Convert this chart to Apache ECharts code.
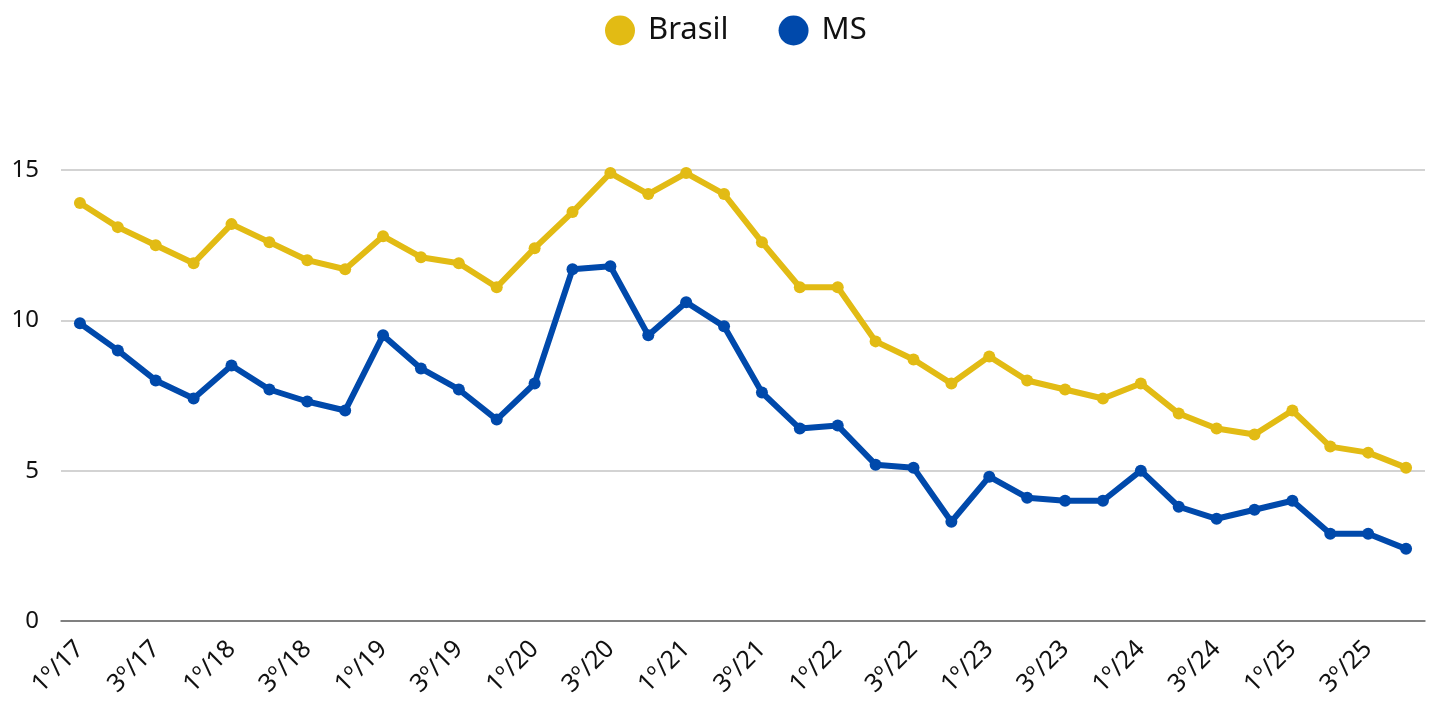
<!DOCTYPE html>
<html>
<head>
<meta charset="utf-8">
<script src="https://cdn.jsdelivr.net/npm/echarts@6/dist/echarts.min.js"></script>
<style>
  html, body { margin: 0; padding: 0; background: #fff; }
  #chart { width: 1433px; height: 702px; }
</style>
</head>
<body>
<div id="chart"></div>
<script>
// trimestres 2017-2025
var years = ['17', '18', '19', '20', '21', '22', '23', '24', '25'];
var quarters = [];
years.forEach(function (y) {
    for (var q = 1; q <= 4; q++) quarters.push(q + 'º/' + y);
});

var brasil = [13.9, 13.1, 12.5, 11.9, 13.2, 12.6, 12.0, 11.7, 12.8, 12.1, 11.9, 11.1,
              12.4, 13.6, 14.9, 14.2, 14.9, 14.2, 12.6, 11.1, 11.1, 9.3, 8.7, 7.9,
              8.8, 8.0, 7.7, 7.4, 7.9, 6.9, 6.4, 6.2, 7.0, 5.8, 5.6, 5.1];
var ms = [9.9, 9.0, 8.0, 7.4, 8.5, 7.7, 7.3, 7.0, 9.5, 8.4, 7.7, 6.7,
          7.9, 11.7, 11.8, 9.5, 10.6, 9.8, 7.6, 6.4, 6.5, 5.2, 5.1, 3.3,
          4.8, 4.1, 4.0, 4.0, 5.0, 3.8, 3.4, 3.7, 4.0, 2.9, 2.9, 2.4];

var yTicks = [0, 5, 10, 15];

var chart = echarts.init(document.getElementById('chart'));

var option = {
    textStyle: { fontFamily: 'Noto Sans' },
    legend: {
        top: 10,
        left: 600,
        icon: 'circle',
        itemWidth: 30,
        itemHeight: 30,
        itemGap: 50,
        textStyle: { fontSize: 31, color: '#111', padding: [0, 0, 0, 8] },
        data: ['Brasil', 'MS']
    },
    grid: { left: 61, right: 8, top: 170, bottom: 81 },
    xAxis: {
        type: 'category',
        data: quarters,
        boundaryGap: true,
        axisLine: { lineStyle: { color: '#666', width: 1.5 } },
        axisTick: { show: false },
        axisLabel: {
            interval: 1,
            rotate: 45,
            fontSize: 25,
            color: '#111',
            margin: 24
        }
    },
    yAxis: {
        type: 'value',
        min: yTicks[0],
        max: yTicks[yTicks.length - 1],
        interval: 5,
        axisLine: { show: false },
        axisTick: { show: false },
        axisLabel: { fontSize: 24, color: '#111', margin: 22 },
        splitLine: { lineStyle: { color: '#c4c4c4', width: 1.5 } }
    },
    series: [
        {
            name: 'Brasil',
            type: 'line',
            data: brasil,
            color: '#E2BB14',
            symbol: 'circle',
            symbolSize: 12,
            lineStyle: { width: 6 }
        },
        {
            name: 'MS',
            type: 'line',
            data: ms,
            color: '#0049AB',
            symbol: 'circle',
            symbolSize: 12,
            lineStyle: { width: 6 }
        }
    ]
};

chart.setOption(option);
</script>
</body>
</html>
